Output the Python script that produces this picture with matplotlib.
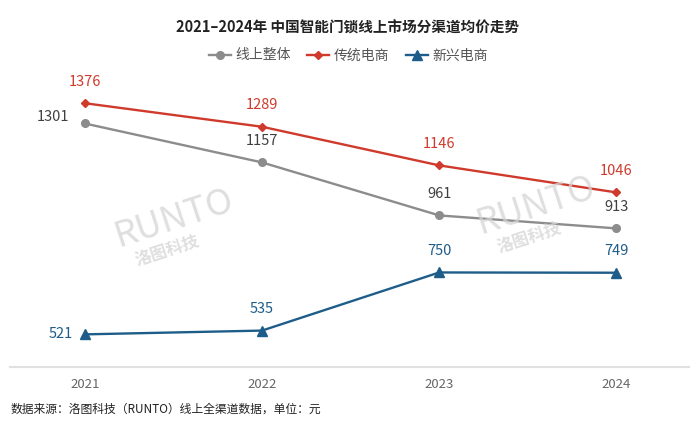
import matplotlib.pyplot as plt

plt.rcParams['font.family'] = ['Noto Sans CJK SC', 'DejaVu Sans']

# data
years = ["2021", "2022", "2023", "2024"]
overall = [1301, 1157, 961, 913]
traditional = [1376, 1289, 1146, 1046]
emerging = [521, 535, 750, 749]

c_gray = "#8c8c8c"
c_red = "#cf3a2c"
c_blue = "#1e5d8a"

fig = plt.figure(figsize=(6.96, 4.37), dpi=100)
ax = fig.add_axes([0.015, 0.160, 0.975, 0.657])

x = list(range(len(years)))
l1, = ax.plot(x, overall, color=c_gray, lw=1.7, marker="o", ms=5.5, label="线上整体")
l2, = ax.plot(x, traditional, color=c_red, lw=1.7, marker="D", ms=4, label="传统电商")
l3, = ax.plot(x, emerging, color=c_blue, lw=1.7, marker="^", ms=6.5, label="新兴电商")

ax.set_xlim(-0.42, 3.41)
ax.set_ylim(400, 1462)

# popisky hodnot
fs = 10.5
for i, v in enumerate(traditional):
    ax.annotate(str(v), (i, v), xytext=(0, 15.5), textcoords="offset points",
                ha="center", va="center", color=c_red, fontsize=fs)
for i, v in enumerate(overall):
    if i == 0:
        ax.annotate(str(v), (i, v), xytext=(-23, 5), textcoords="offset points",
                    ha="center", va="center", color="#404040", fontsize=fs)
    else:
        ax.annotate(str(v), (i, v), xytext=(0, 15.5), textcoords="offset points",
                    ha="center", va="center", color="#404040", fontsize=fs)
for i, v in enumerate(emerging):
    if i == 0:
        ax.annotate(str(v), (i, v), xytext=(-17, 0), textcoords="offset points",
                    ha="center", va="center", color=c_blue, fontsize=fs)
    else:
        ax.annotate(str(v), (i, v), xytext=(0, 15.5), textcoords="offset points",
                    ha="center", va="center", color=c_blue, fontsize=fs)

ax.set_xticks(x)
ax.set_xticklabels(years, color="#666666", fontsize=9.5)
ax.set_yticks([])
ax.tick_params(axis="x", length=0, pad=8)
for s in ["top", "right", "left"]:
    ax.spines[s].set_visible(False)
ax.spines["bottom"].set_color("#e0e0e0")
ax.spines["bottom"].set_linewidth(1.5)

# vodoznak
for wx, wy in [(0.25, 0.50), (0.77, 0.53)]:
    fig.text(wx, wy, "RUNTO", fontsize=26, color="#d4d4d4", rotation=18,
             ha="center", va="center", style="italic", alpha=0.75)
    fig.text(wx - 0.01, wy - 0.075, "洛图科技", fontsize=12, color="#d4d4d4",
             rotation=18, ha="center", va="center", fontweight="bold", alpha=0.75)

fig.suptitle("2021–2024年 中国智能门锁线上市场分渠道均价走势", x=0.5, y=0.955,
             fontsize=10.5, fontweight="bold", color="#222222")
fig.legend(handles=[l1, l2, l3], loc="center", bbox_to_anchor=(0.5, 0.873),
           ncol=3, frameon=False, fontsize=10, handlelength=1.6,
           handletextpad=0.3, columnspacing=1.2, labelcolor="#555555")

fig.text(0.015, 0.064, "数据来源：洛图科技（RUNTO）线上全渠道数据，单位：元",
         fontsize=8.5, color="#222222", ha="left", va="center")

plt.savefig("out.png", dpi=100)
